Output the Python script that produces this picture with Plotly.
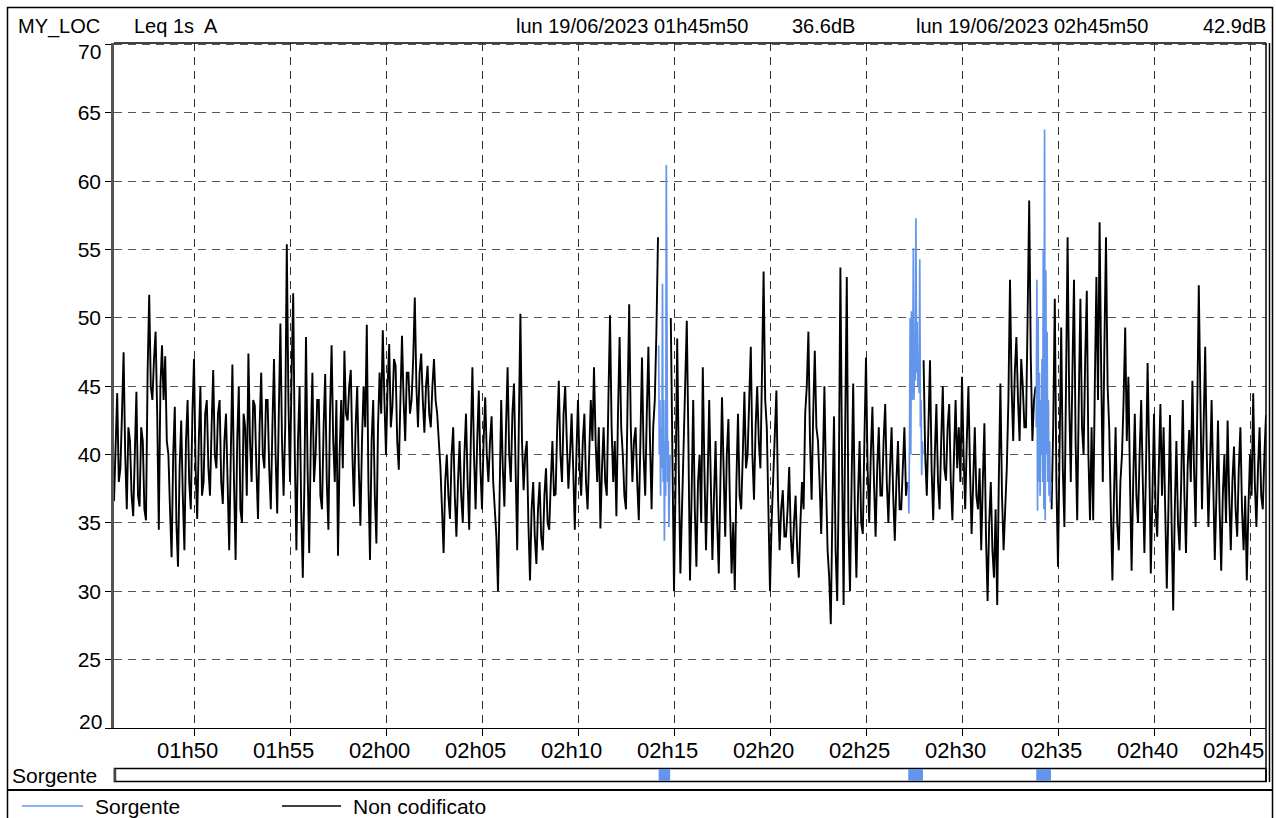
import pandas as pd
import plotly.graph_objects as go

# ---------------- data ----------------
START = "2023-06-19 01:45:50"
END = "2023-06-19 02:45:50"

# Leq 1s A, "Non codificato": one value every 5 s, one row per minute (rows start at hh:mm:50)
leq_rows = [
    [36.6, 41, 44.5, 38, 39, 43, 47.5, 40, 36, 42, 41, 37],              # 01:45:50
    [35.5, 40, 44.6, 37, 36.2, 42, 41, 36, 35.2, 46, 51.7, 45],          # 01:46:50
    [44, 47, 49, 43, 34.5, 45, 48, 44, 47.2, 41, 40, 36],                # 01:47:50
    [32.5, 40, 43.5, 35, 31.8, 39, 42.5, 37, 33, 41, 44, 38],            # 01:48:50
    [36, 43, 47, 39, 35.3, 41, 45, 37, 38, 43, 44, 39],                  # 01:49:50
    [37, 42, 46.2, 40, 39, 43, 44, 38, 36.4, 41, 43, 38],                # 01:50:50
    [33, 40, 46.6, 38, 32.3, 41, 45, 36, 35, 43, 42, 37],                # 01:51:50
    [47.4, 41, 38, 44, 43.6, 39, 35.3, 42, 46, 40, 39, 44],              # 01:52:50
    [44, 39, 36, 42, 47, 40, 35.7, 43, 49.6, 41, 37, 42],                # 01:53:50
    [55.4, 44, 38, 46, 51.8, 40, 33, 41, 45, 36, 31, 38],                # 01:54:50
    [48.6, 39, 32.8, 41, 46, 38, 40, 44, 44, 37, 36, 42],                # 01:55:50
    [45.9, 38, 34.5, 43, 48, 41, 38, 44, 32.6, 40, 44, 39],              # 01:56:50
    [47.6, 43, 42.5, 45, 46.2, 40, 36.2, 42, 45, 39, 34.8, 41],          # 01:57:50
    [45, 42, 49.5, 38, 32.3, 41, 44, 37, 33.5, 42, 46, 43],              # 01:58:50
    [49.1, 44, 40, 45, 48.1, 42, 43.5, 47, 46.5, 41, 38.9, 44],          # 01:59:50
    [48.7, 44, 41, 46, 46, 43, 44, 47, 51.5, 45, 42, 46],                # 02:00:50
    [47.4, 44, 41.6, 45, 46.5, 43, 42, 45, 47, 44, 43, 41],              # 02:01:50
    [39.1, 36, 32.8, 38, 40, 37, 35.3, 40, 42, 37, 34, 38],              # 02:02:50
    [41, 37, 35, 40, 43, 38, 34.5, 41, 46.4, 40, 36, 41],                # 02:03:50
    [44.7, 39, 36, 41, 44.2, 40, 38, 41, 42.8, 38, 36.2, 34],            # 02:04:50
    [30, 38, 44, 39, 36.2, 42, 46.4, 40, 38, 43, 45.2, 39],              # 02:05:50
    [33, 42, 50.3, 41, 37.4, 40, 41, 35, 30.8, 36, 38, 34],              # 02:06:50
    [32, 36, 38, 34, 33, 37, 39, 35, 34.5, 38, 41, 37],                  # 02:07:50
    [37.1, 42, 45.4, 40, 38, 43, 45, 41, 37.5, 40, 43, 39],              # 02:08:50
    [34.5, 40, 44, 39, 37, 41, 43, 38, 36, 40, 44, 41],                  # 02:09:50
    [46.4, 41, 38, 42, 34.6, 39, 42, 38, 37, 44, 50.2, 42],              # 02:10:50
    [38, 41, 35.5, 43, 48.6, 42, 40, 37, 36, 44, 51, 42],                # 02:11:50
    [38, 41, 42, 38, 35.2, 41, 47.1, 40, 37, 43, 47.9, 41],              # 02:12:50
    [36, 42, 44, 49, 55.9, None, None, None, None, None, None, None],    # 02:13:50
    [50, 40, 30, 38, 48.5, 39, 31.3, 36, 40, 44, 49.8, 41],              # 02:14:50
    [30.8, 37, 44, 36, 31.8, 38, 40, 35, 46.4, 39, 33, 38],              # 02:15:50
    [44, 38, 32.3, 37, 41, 35, 31.3, 38, 44.2, 39, 34, 40],              # 02:16:50
    [42.6, 36, 31.3, 35, 30.1, 38, 43, 37, 36, 40, 44.6, 39],            # 02:17:50
    [40, 44, 47.9, 40, 36.7, 42, 45, 41, 39, 46, 53.4, 44],              # 02:18:50
    [42, 36, 30, 35, 38, 41, 44.7, 37, 33, 36, 37.4, 34],                # 02:19:50
    [34, 36, 39.1, 34, 32, 35, 37, 33, 31, 35, 38, 36],                  # 02:20:50
    [43, 45, 49, 41, 36.7, 43, 47.6, 42, 41, 38, 34.2, 39],              # 02:21:50
    [45, 38, 33, 31, 27.6, 36, 42.8, 33, 29.3, 38, 53.7, 40],            # 02:22:50
    [29, 42, 53, 35, 30, 38, 45.2, 36, 31, 37, 41, 35],                  # 02:23:50
    [34.2, 41, 47.1, 39, 35, 40, 43.5, 38, 34, 39, 42, 37],              # 02:24:50
    [37, 41, 43.7, 38, 35, 39, 42, 37, 33.7, 38, 41, 36],                # 02:25:50
    [36, 39, 42, 37, 38, None, None, None, None, None, None, None],      # 02:26:50
    [None, None, 46.9, 40, 37, 42, 46.9, 39, 35.2, 40, 43.7, 38],        # 02:27:50
    [36, 41, 45, 39, 38.1, 42, 43.7, 38, 35.2, 40, 44, 39],              # 02:28:50
    [42, 38, 45.7, 40, 36, 41, 45, 39, 34.2, 38, 42, 37],                # 02:29:50
    [36, 39, 33, 38, 42.3, 34, 29.3, 35, 38, 33, 31, 36],                # 02:30:50
    [29, 38, 45.2, 37, 33, 36, 39, 44, 52.8, 45, 41, 46],                # 02:31:50
    [48.6, 44, 41, 47, 45, 42, 42, 50, 58.6, 47, 41, 44],                # 02:32:50
    [45, None, None, None, None, None, None, None, None, None, 36, 42],  # 02:33:50
    [51.4, 38, 31.8, 40, 49.3, 39, 34.7, 45, 55.9, 44, 38, 46],          # 02:34:50
    [52.8, 41, 35.2, 44, 51.4, 42, 40, 47, 52, 40, 35.2, 42],            # 02:35:50
    [35.2, 45, 53, 44, 57, 46, 38, 48, 55.9, 45, 42, 36],                # 02:36:50
    [30.8, 37, 42, 35, 33, 38, 40, 44, 49.3, 41, 45.7, 38],              # 02:37:50
    [31.5, 38, 43, 37, 35, 40, 44, 38, 32.8, 39, 46.7, 40],              # 02:38:50
    [31.3, 37, 43, 36, 34, 39, 43.7, 37, 42, 36, 30.2, 36],              # 02:39:50
    [42.9, 35, 28.6, 36, 41, 35, 33, 38, 44, 37, 32.8, 39],              # 02:40:50
    [41.8, 38, 45.4, 39, 34.7, 43, 52.4, 44, 36, 42, 47.9, 40],          # 02:41:50
    [34.7, 39, 44, 38, 32.3, 37, 42.5, 36, 31.5, 37, 40, 35],            # 02:42:50
    [42.5, 37, 33, 38, 40.6, 36, 34, 39, 42, 36, 33, 37],                # 02:43:50
    [30.8, 36, 40, 37, 44.5, 38, 34.7, 39, 42, 37, 36, 40],              # 02:44:50
]
leq_last = [42.9]                                                        # 02:45:50

# "Sorgente" events, one value every 2 s
sorgente_1_start = "2023-06-19 02:14:12"
sorgente_1 = [48, 40, 44, 37, 42, 39, 52.5, 38, 44, 33.7, 41, 37, 61.2, 45, 38, 41, 34.7, 37, 40]
sorgente_2_start = "2023-06-19 02:27:12"
sorgente_2 = [38, 35.7, 41, 50, 40, 50.5, 44, 46, 55.1, 44, 47.4, 45.4, 57.3, 46, 49.7, 45,
              47, 44.5, 54.3, 42, 44, 38.5, 41, 40]
sorgente_3_start = "2023-06-19 02:33:52"
sorgente_3 = [42, 52.8, 35.9, 50, 38, 46, 37, 44, 40, 47, 38, 55, 36, 63.8, 35.2, 53.5,
              40, 49, 38, 44, 37, 41, 36.5, 38]

y_ticks = [20, 25, 30, 35, 40, 45, 50, 55, 60, 65, 70]
x_tick_first, x_tick_last = "2023-06-19 01:50:00", "2023-06-19 02:45:00"
header_left = ["MY_LOC", "Leq 1s  A"]
cursor_1 = ["lun 19/06/2023 01h45m50", "36.6dB"]
cursor_2 = ["lun 19/06/2023 02h45m50", "42.9dB"]
legend_names = ["Sorgente", "Non codificato"]

# ---------------- build ----------------
non_codificato = [v for row in leq_rows for v in row] + leq_last
t_black = pd.date_range(START, periods=len(non_codificato), freq="5s")

sorgente_segments = []
for s0, vals in [(sorgente_1_start, sorgente_1), (sorgente_2_start, sorgente_2),
                 (sorgente_3_start, sorgente_3)]:
    sorgente_segments.append((pd.date_range(s0, periods=len(vals), freq="2s"), vals))

t_blue, v_blue = [], []
for ts, vals in sorgente_segments:
    t_blue += list(ts) + [None]
    v_blue += list(vals) + [None]

x_ticks = pd.date_range(x_tick_first, x_tick_last, freq="5min")

BLUE = "#6495ED"
FONT = "Liberation Sans, Arial, sans-serif"
W, H = 1276, 818
PL, PR, PT, PB = 114, 1266, 43, 728


def px(x):
    return (x - PL) / (PR - PL)


def py(y):
    return (PB - y) / (PB - PT)


fig = go.Figure()
fig.add_trace(go.Scatter(x=t_black, y=non_codificato, mode="lines", name=legend_names[1],
                         line=dict(color="black", width=1.9), connectgaps=False,
                         showlegend=False))
fig.add_trace(go.Scatter(x=t_blue, y=v_blue, mode="lines", name=legend_names[0],
                         line=dict(color=BLUE, width=1.7), connectgaps=False,
                         showlegend=False))

shapes = []
LBLACK = dict(color="black", width=1.5)


def pline(x0, y0, x1, y1, **ln):
    shapes.append(dict(type="line", xref="paper", yref="paper",
                       x0=px(x0), x1=px(x1), y0=py(y0), y1=py(y1),
                       line=ln or LBLACK, layer="above"))


# outer frame
shapes.append(dict(type="rect", xref="paper", yref="paper", x0=px(7.5), x1=px(1272.5),
                   y0=py(7.5), y1=py(840), line=dict(color="black", width=1.5),
                   fillcolor="rgba(0,0,0,0)", layer="above"))
# plot top border and right double border
pline(PL, PT, PR, PT)
pline(1266, PT, 1266, 782)
pline(1269.5, PT, 1269.5, 782)
# sorgente bar
shapes.append(dict(type="rect", xref="paper", yref="paper", x0=px(114.5), x1=px(1266),
                   y0=py(768.5), y1=py(781.5), line=dict(color="black", width=1.5),
                   fillcolor="white", layer="below"))
pline(115, 768.5, 115, 781.5, color="#444", width=2.5)
for ts, vals in sorgente_segments:
    shapes.append(dict(type="rect", xref="x", yref="paper", x0=ts[0], x1=ts[-1],
                       y0=py(781), y1=py(769), line=dict(width=0), fillcolor=BLUE,
                       layer="above"))
# legend separator
pline(7, 790, 1273, 790, color="black", width=2)
# legend samples
pline(22, 806, 83, 806, color=BLUE, width=1.5)
pline(282, 806, 341, 806, color="black", width=1.5)

annotations = []


def text(s, x, y, size, anchor="left"):
    annotations.append(dict(text=s, xref="paper", yref="paper", x=px(x), y=py(y),
                            xanchor=anchor, yanchor="middle", showarrow=False,
                            font=dict(family=FONT, size=size, color="black"),
                            borderpad=0))


text(header_left[0], 17, 26, 20)
text(header_left[1], 133, 26, 20)
text(cursor_1[0], 515, 26, 20)
text(cursor_1[1], 791, 26, 20)
text(cursor_2[0], 915, 26, 20)
text(cursor_2[1], 1202, 26, 20)
text(str(y_ticks[-1]), 102, 51.5, 21, "right")
text(str(y_ticks[0]), 103, 721.5, 21, "right")
text("Sorgente", 11, 775, 21)
text(legend_names[0], 94, 806, 21)
text(legend_names[1], 352, 806, 21)

# x tick labels (drawn slightly left of the ticks, last one pulled inside the frame)
for i, t in enumerate(x_ticks):
    last = i == len(x_ticks) - 1
    annotations.append(dict(text=t.strftime("%Hh%M"), xref="x", yref="paper", x=t,
                            y=py(750.5), xanchor="center", yanchor="middle",
                            xshift=-17 if last else -6.5, showarrow=False,
                            font=dict(family=FONT, size=22, color="black"), borderpad=0))

fig.update_layout(
    width=W, height=H,
    margin=dict(l=PL, r=W - PR, t=PT, b=H - PB, pad=0),
    plot_bgcolor="white", paper_bgcolor="white",
    font=dict(family=FONT, color="black"),
    shapes=shapes, annotations=annotations,
    showlegend=False,
)
fig.update_xaxes(
    type="date", range=[START, END],
    tickvals=list(x_ticks), showticklabels=False,
    ticks="outside", ticklen=7, tickcolor="black", tickwidth=1,
    showline=True, linecolor="black", linewidth=1.2,
    showgrid=True, gridcolor="#333", gridwidth=1, griddash="8px,6px",
    zeroline=False, fixedrange=True,
)
fig.update_yaxes(
    range=[20, 70.12], tickvals=y_ticks,
    ticktext=[""] + [str(v) for v in y_ticks[1:-1]] + [""],
    ticks="outside", ticklen=6, tickcolor="black", tickwidth=1,
    showline=True, linecolor="#555", linewidth=2.5,
    showgrid=True, gridcolor="#555", gridwidth=1, griddash="8px,6px",
    tickfont=dict(family=FONT, size=21, color="black"),
    zeroline=False, fixedrange=True,
)

fig.write_html("out.html",
               config={"displayModeBar": False},
               post_script="document.body.style.margin='0';"
                           "document.body.style.overflow='hidden';")
